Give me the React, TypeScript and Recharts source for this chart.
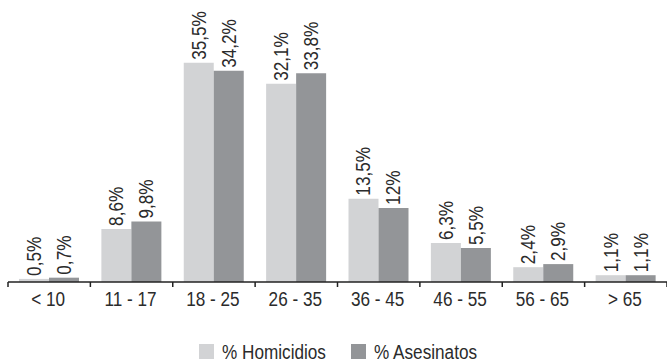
import React from 'react';
import { BarChart, Bar, XAxis, YAxis, LabelList } from 'recharts';

const categories = ['< 10', '11 - 17', '18 - 25', '26 - 35', '36 - 45', '46 - 55', '56 - 65', '> 65'];
const homicidios = [0.5, 8.6, 35.5, 32.1, 13.5, 6.3, 2.4, 1.1];
const asesinatos = [0.7, 9.8, 34.2, 33.8, 12, 5.5, 2.9, 1.1];

const data = categories.map((name, i) => ({
  name,
  homicidios: homicidios[i],
  asesinatos: asesinatos[i],
}));

const WIDTH = 667;
const HEIGHT = 362;
const LEFT = 8;
const FONT = '"Liberation Sans", Arial, sans-serif';
const FONT_SIZE = 19.5;
const NARROW = 0.88; // squeeze regular sans into a narrow face
const TEXT = '#2b2b2b';
const LIGHT = '#d2d3d5';
const DARK = '#939598';

const band = (WIDTH - LEFT) / categories.length;

const fmt = (v: number) => `${String(v).replace('.', ',')}%`;

// value label written upwards, just above the bar
const ValueLabel = (props: any) => {
  const { x, y, width, value } = props;
  const cx = Number(x) + Number(width) / 2;
  const top = Number(y) - 3;
  return (
    <text
      x={0}
      y={0}
      transform={`translate(${cx} ${top}) rotate(-90) scale(${NARROW} 1)`}
      textAnchor="start"
      dominantBaseline="central"
      fontFamily={FONT}
      fontSize={FONT_SIZE}
      fill={TEXT}
    >
      {fmt(value)}
    </text>
  );
};

// tick marks sit between categories, labels in the middle
const CategoryTick = (props: any) => {
  const { x, y, payload, index } = props;
  const left = x - band / 2;
  return (
    <g>
      <line x1={left} y1={y} x2={left} y2={y + 5} stroke="#222" strokeWidth={1.5} />
      {index === categories.length - 1 && (
        <line x1={left + band} y1={y} x2={left + band} y2={y + 5} stroke="#222" strokeWidth={1.5} />
      )}
      <text
        x={0}
        y={0}
        transform={`translate(${x - 1} ${y + 24}) scale(${NARROW} 1)`}
        textAnchor="middle"
        fontFamily={FONT}
        fontSize={FONT_SIZE}
        fill={TEXT}
      >
        {payload.value}
      </text>
    </g>
  );
};

const LegendItem = ({ left, color, label }: { left: number; color: string; label: string }) => (
  <>
    <span style={{ position: 'absolute', left, top: 344, width: 15, height: 15, background: color }} />
    <span
      style={{
        position: 'absolute',
        left: left + 23,
        top: 340,
        lineHeight: '24px',
        whiteSpace: 'nowrap',
        transform: `scaleX(${NARROW})`,
        transformOrigin: 'left center',
      }}
    >
      {label}
    </span>
  </>
);

export default function App() {
  return (
    <div style={{ position: 'absolute', left: 0, top: 0, width: WIDTH, height: HEIGHT, background: '#fff' }}>
      <BarChart
        width={WIDTH}
        height={HEIGHT}
        data={data}
        margin={{ top: 35, right: 0, left: LEFT, bottom: 50 }}
        barCategoryGap={11}
        barGap={0}
      >
        <XAxis
          dataKey="name"
          height={30}
          stroke="#222"
          strokeWidth={1.5}
          tickLine={false}
          tickSize={0}
          tickMargin={0}
          interval={0}
          tick={<CategoryTick />}
        />
        <YAxis hide domain={[0, 40]} />
        <Bar dataKey="homicidios" fill={LIGHT} isAnimationActive={false}>
          <LabelList dataKey="homicidios" content={<ValueLabel />} />
        </Bar>
        <Bar dataKey="asesinatos" fill={DARK} isAnimationActive={false}>
          <LabelList dataKey="asesinatos" content={<ValueLabel />} />
        </Bar>
      </BarChart>
      <div style={{ fontFamily: FONT, fontSize: FONT_SIZE, color: TEXT }}>
        <LegendItem left={199} color={LIGHT} label="% Homicidios" />
        <LegendItem left={351} color={DARK} label="% Asesinatos" />
      </div>
    </div>
  );
}
